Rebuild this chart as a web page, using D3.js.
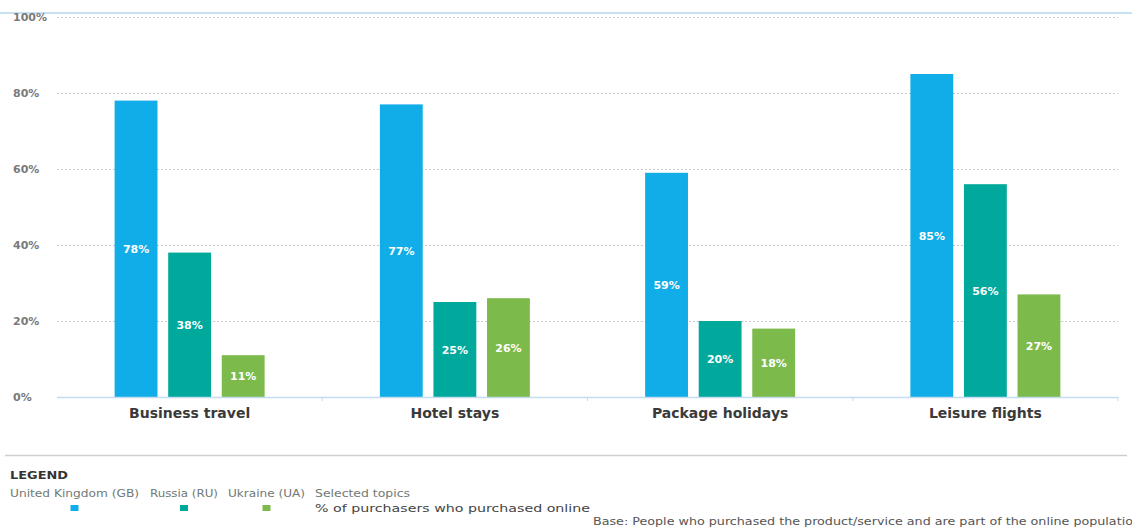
<!DOCTYPE html>
<html>
<head>
<meta charset="utf-8">
<script src="https://cdn.jsdelivr.net/npm/d3@7"></script>
<style>
  html, body { margin: 0; padding: 0; background: #fff; }
  svg { display: block; }
  text { font-family: "DejaVu Sans", "Open Sans", sans-serif; }
</style>
</head>
<body>
<svg id="chart" width="1132" height="528"></svg>
<script>
const categories = ["Business travel", "Hotel stays", "Package holidays", "Leisure flights"];
const seriesNames = ["United Kingdom (GB)", "Russia (RU)", "Ukraine (UA)"];
const gbValues = [78, 77, 59, 85];
const ruValues = [38, 25, 20, 56];
const uaValues = [11, 26, 18, 27];
const yTicks = [0, 20, 40, 60, 80, 100];
const colors = ["#11ade8", "#00a99b", "#7dba4c"];

const seriesValues = [gbValues, ruValues, uaValues];
const data = categories.map((c, i) => ({
  category: c,
  values: seriesNames.map((s, j) => ({ series: s, idx: j, value: seriesValues[j][i] }))
}));

const svg = d3.select("#chart");

// top rule
svg.append("line").attr("x1", 0).attr("x2", 1132).attr("y1", 13).attr("y2", 13)
  .attr("stroke", "#8cc3e6").attr("stroke-width", 1.2);

const x0 = d3.scaleBand().domain(categories).range([57, 1118]).paddingInner(0).paddingOuter(0);
const y = d3.scaleLinear().domain([0, 100]).range([397, 17]);
const x1 = d3.scaleBand().domain(d3.range(3)).range([0, 150]).paddingInner(0.2).paddingOuter(0);

// gridlines
svg.append("g").selectAll("line").data(yTicks.filter(t => t > 0)).join("line")
  .attr("x1", 57).attr("x2", 1118)
  .attr("y1", d => y(d) + 0.5).attr("y2", d => y(d) + 0.5)
  .attr("stroke", "#c9c9c9").attr("stroke-width", 1).attr("stroke-dasharray", "2,2");

// y tick labels
svg.append("g").selectAll("text").data(yTicks).join("text")
  .attr("x", 13).attr("y", d => y(d) + 4)
  .attr("font-size", 11).attr("font-weight", 700).attr("fill", "#7a7a7a")
  .text(d => d + "%");

// bars
const groups = svg.append("g").selectAll("g").data(data).join("g")
  .attr("transform", d => `translate(${x0(d.category) + x0.bandwidth() / 2 - 75},0)`);

groups.selectAll("rect").data(d => d.values).join("rect")
  .attr("x", d => x1(d.idx))
  .attr("y", d => y(d.value))
  .attr("width", x1.bandwidth())
  .attr("height", d => y(0) - y(d.value))
  .attr("fill", d => colors[d.idx]);

groups.selectAll("text").data(d => d.values).join("text")
  .attr("x", d => x1(d.idx) + x1.bandwidth() / 2)
  .attr("y", d => (y(d.value) + y(0)) / 2 + 4)
  .attr("text-anchor", "middle")
  .attr("font-size", 11).attr("font-weight", 700).attr("fill", "#fff")
  .text(d => d.value + "%");

// x axis baseline and ticks
const xAxis = svg.append("g");
xAxis.append("line").attr("x1", 57).attr("x2", 1118).attr("y1", 397.5).attr("y2", 397.5)
  .attr("stroke", "#c4dcef").attr("stroke-width", 1.5);
const bounds = categories.slice(1).map(c => x0(c)).concat([1118]);
xAxis.selectAll("line.tick").data(bounds).join("line").attr("class", "tick")
  .attr("x1", d => d).attr("x2", d => d).attr("y1", 397).attr("y2", 401)
  .attr("stroke", "#c4dcef").attr("stroke-width", 1);
xAxis.selectAll("text").data(categories).join("text")
  .attr("x", d => x0(d) + x0.bandwidth() / 2).attr("y", 418)
  .attr("text-anchor", "middle")
  .attr("font-size", 14).attr("font-weight", 700).attr("fill", "#3a3a3a")
  .text(d => d);

// separator
svg.append("line").attr("x1", 5).attr("x2", 1127).attr("y1", 455.5).attr("y2", 455.5)
  .attr("stroke", "#cfcfcf").attr("stroke-width", 1.5);

// legend
svg.append("text").attr("x", 10).attr("y", 479)
  .attr("font-size", 11).attr("font-weight", 700).attr("fill", "#333")
  .attr("textLength", 58).attr("lengthAdjust", "spacingAndGlyphs")
  .text("LEGEND");

const legendX = [10, 150, 228];
const legendW = [129, 68, 77];
const lg = svg.append("g").selectAll("g").data(seriesNames).join("g");
lg.append("text").attr("x", (d, i) => legendX[i]).attr("y", 497)
  .attr("font-size", 10).attr("fill", "#6f7a75")
  .attr("textLength", (d, i) => legendW[i]).attr("lengthAdjust", "spacingAndGlyphs")
  .text(d => d);
lg.append("rect").attr("x", (d, i) => legendX[i] + legendW[i] / 2 - 4).attr("y", 505)
  .attr("width", 8).attr("height", 6).attr("fill", (d, i) => colors[i]);

svg.append("text").attr("x", 315).attr("y", 497)
  .attr("font-size", 10).attr("fill", "#6f7a75")
  .attr("textLength", 95).attr("lengthAdjust", "spacingAndGlyphs")
  .text("Selected topics");
svg.append("text").attr("x", 315).attr("y", 512)
  .attr("font-size", 10).attr("fill", "#444")
  .attr("textLength", 275).attr("lengthAdjust", "spacingAndGlyphs")
  .text("% of purchasers who purchased online");

svg.append("text").attr("x", 593).attr("y", 525)
  .attr("font-size", 10).attr("fill", "#555")
  .attr("textLength", 548).attr("lengthAdjust", "spacingAndGlyphs")
  .text("Base: People who purchased the product/service and are part of the online population");
</script>
</body>
</html>
